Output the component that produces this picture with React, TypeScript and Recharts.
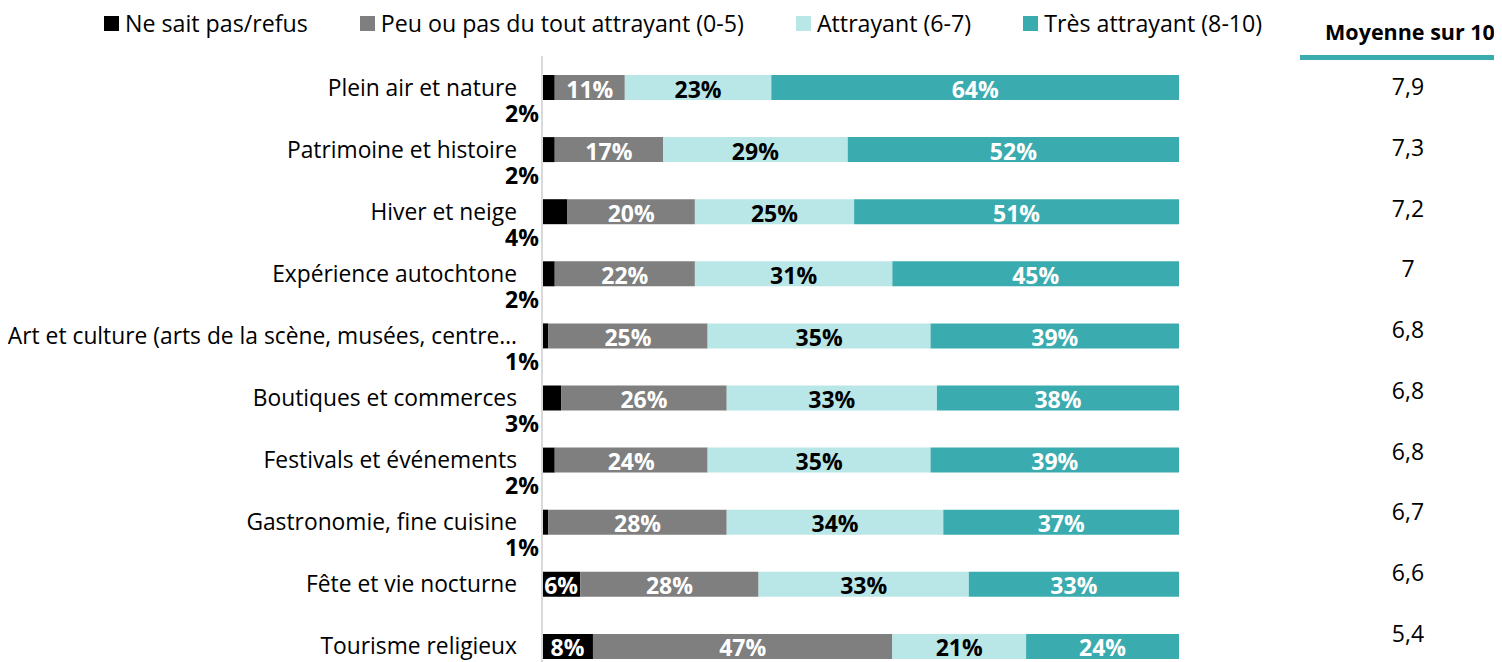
import React from "react";
import { BarChart, Bar, XAxis, YAxis, LabelList, Legend } from "recharts";

const categories = [
  "Plein air et nature",
  "Patrimoine et histoire",
  "Hiver et neige",
  "Expérience autochtone",
  "Art et culture (arts de la scène, musées, centre…",
  "Boutiques et commerces",
  "Festivals et événements",
  "Gastronomie, fine cuisine",
  "Fête et vie nocturne",
  "Tourisme religieux",
];
const nspValues = [2, 2, 4, 2, 1, 3, 2, 1, 6, 8];
const peuValues = [11, 17, 20, 22, 25, 26, 24, 28, 28, 47];
const attrValues = [23, 29, 25, 31, 35, 33, 35, 34, 33, 21];
const tresValues = [64, 52, 51, 45, 39, 38, 39, 37, 33, 24];
const moyennes = ["7,9", "7,3", "7,2", "7", "6,8", "6,8", "6,8", "6,7", "6,6", "5,4"];
const seriesNames = [
  "Ne sait pas/refus",
  "Peu ou pas du tout attrayant (0-5)",
  "Attrayant (6-7)",
  "Très attrayant (8-10)",
];
const moyenneTitle = "Moyenne sur 10";

const COLORS = ["#000000", "#7f7f7f", "#b9e6e6", "#3aabae"];
const FONT = "'Open Sans', sans-serif";

const data = categories.map((name, i) => ({
  name,
  nsp: nspValues[i],
  peu: peuValues[i],
  attr: attrValues[i],
  tres: tresValues[i],
  moy: moyennes[i],
}));

const makeCenterLabel = (fill: string) => (props: any) => {
  const x = Number(props.x);
  const y = Number(props.y);
  const w = Number(props.width);
  const h = Number(props.height);
  return (
    <text
      x={x + w / 2}
      y={y + h / 2 + 1}
      fill={fill}
      textAnchor="middle"
      dominantBaseline="central"
      fontFamily={FONT}
      fontWeight={700}
      fontSize={23}
    >
      {props.value}%
    </text>
  );
};

const NspLabel = (props: any) => {
  const x = Number(props.x);
  const y = Number(props.y);
  const w = Number(props.width);
  const h = Number(props.height);
  const v = Number(props.value);
  if (v >= 5) {
    return (
      <text
        x={x + w / 2}
        y={y + h / 2 + 1}
        fill="#fff"
        textAnchor="middle"
        dominantBaseline="central"
        fontFamily={FONT}
        fontWeight={700}
        fontSize={23}
      >
        {v}%
      </text>
    );
  }
  return (
    <text
      x={x - 3}
      y={y + h / 2 + 25}
      fill="#000"
      textAnchor="end"
      dominantBaseline="central"
      fontFamily={FONT}
      fontWeight={700}
      fontSize={23}
    >
      {v}%
    </text>
  );
};

const CategoryTick = (props: any) => {
  const { x, y, payload } = props;
  return (
    <text
      x={x}
      y={y}
      textAnchor="end"
      dominantBaseline="central"
      fontFamily={FONT}
      fontSize={22.8}
      fill="#000"
    >
      {payload.value}
    </text>
  );
};

const MeanTick = (props: any) => {
  const { x, y, index } = props;
  return (
    <text
      x={Number(x) + 229}
      y={y}
      textAnchor="middle"
      dominantBaseline="central"
      fontFamily={FONT}
      fontSize={23}
      fill="#000"
    >
      {moyennes[index]}
    </text>
  );
};

const LegendContent = () => (
  <div style={{ position: "relative", width: 1494, height: 0, fontFamily: FONT }}>
    <div
      style={{
        position: "absolute",
        left: 96,
        top: 0,
        display: "flex",
        alignItems: "center",
        height: 31,
        whiteSpace: "nowrap",
      }}
    >
      {seriesNames.map((n, i) => (
        <div key={n} style={{ display: "flex", alignItems: "center", marginRight: 52 }}>
          <div style={{ width: 15, height: 15, background: COLORS[i], marginRight: 6 }} />
          <span style={{ fontSize: 23.2, color: "#000", lineHeight: "31px" }}>{n}</span>
        </div>
      ))}
    </div>
    <div
      style={{
        position: "absolute",
        left: 1302,
        width: 200,
        top: 8,
        display: "flex",
        justifyContent: "center",
        fontSize: 21.5,
        fontWeight: 700,
        lineHeight: "31px",
        color: "#000",
        whiteSpace: "nowrap",
      }}
    >
      <span>{moyenneTitle}</span>
    </div>
    <div
      style={{
        position: "absolute",
        left: 1292,
        width: 202,
        top: 47,
        height: 5,
        background: COLORS[3],
      }}
    />
  </div>
);

export default function App() {
  return (
    <div style={{ width: 1494, height: 654, overflow: "hidden", position: "relative" }}>
      <BarChart
        width={1494}
        height={680}
        data={data}
        layout="vertical"
        margin={{ top: 48, right: 0, bottom: 11, left: 0 }}
      >
        <XAxis type="number" domain={[0, 100]} hide />
        <YAxis
          yAxisId="cat"
          type="category"
          dataKey="name"
          width={534}
          tickLine={false}
          tickSize={0}
          tickMargin={25}
          axisLine={{ stroke: "#d9d9d9", strokeWidth: 2 }}
          tick={<CategoryTick />}
          interval={0}
        />
        <YAxis
          yAxisId="moy"
          orientation="right"
          type="category"
          dataKey="name"
          width={323}
          tickLine={false}
          tickSize={0}
          tickMargin={0}
          axisLine={false}
          padding={{ top: 0, bottom: 14 }}
          tick={<MeanTick />}
          interval={0}
        />
        <Legend
          verticalAlign="top"
          wrapperStyle={{ position: "absolute", top: 0, left: 0, width: 1494, height: 0 }}
          content={<LegendContent />}
        />
        <Bar yAxisId="cat" dataKey="nsp" stackId="a" fill={COLORS[0]} barSize={25} isAnimationActive={false}>
          <LabelList dataKey="nsp" content={NspLabel} />
        </Bar>
        <Bar yAxisId="cat" dataKey="peu" stackId="a" fill={COLORS[1]} barSize={25} isAnimationActive={false}>
          <LabelList dataKey="peu" content={makeCenterLabel("#fff")} />
        </Bar>
        <Bar yAxisId="cat" dataKey="attr" stackId="a" fill={COLORS[2]} barSize={25} isAnimationActive={false}>
          <LabelList dataKey="attr" content={makeCenterLabel("#000")} />
        </Bar>
        <Bar yAxisId="cat" dataKey="tres" stackId="a" fill={COLORS[3]} barSize={25} isAnimationActive={false}>
          <LabelList dataKey="tres" content={makeCenterLabel("#fff")} />
        </Bar>
      </BarChart>
    </div>
  );
}
